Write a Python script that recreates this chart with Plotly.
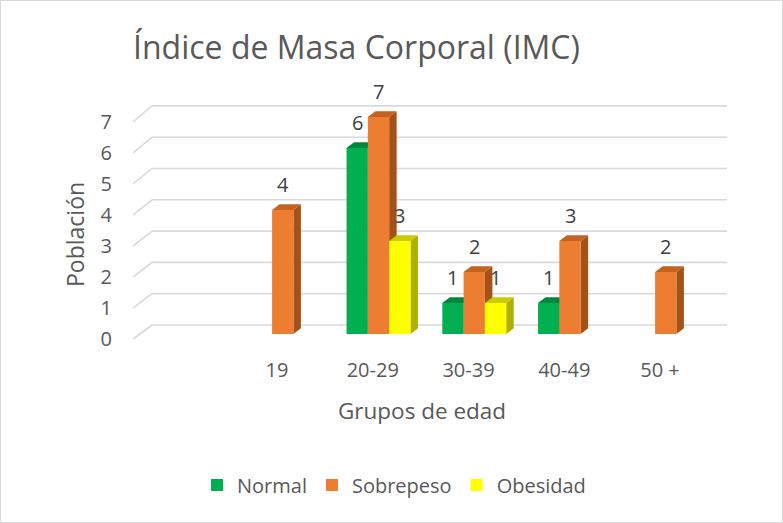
import plotly.graph_objects as go

# ---------------- data ----------------
categories = ["19", "20-29", "30-39", "40-49", "50 +"]
normal = [None, 6, 1, 1, None]
sobrepeso = [4, 7, 2, 3, 2]
obesidad = [None, 3, 1, None, None]
y_ticks = [0, 1, 2, 3, 4, 5, 6, 7]

series = [
    ("Normal", normal, "#00B050", "#00873E", "#007A36"),
    ("Sobrepeso", sobrepeso, "#ED7D31", "#C4621F", "#A4511A"),
    ("Obesidad", obesidad, "#FFFF00", "#CACA00", "#AFAF00"),
]

# ---------------- layout geometry ----------------
W, H = 783, 523
L, R, T, B = 133, 56, 94, 178
plot_w = W - L - R
plot_h = H - T - B
x_unit_px = 95.75
x_origin_px = 187.0   # pixel of position 0 (empty slot before first group)
x_range = [(L - x_origin_px) / x_unit_px, (W - R - x_origin_px) / x_unit_px]
y_unit_px = 31.0
y_zero_px = 334.0
y_range = [-(H - B - y_zero_px) / y_unit_px, (y_zero_px - T) / y_unit_px]


def paper_x(px):
    return (px - L) / plot_w


def paper_y(py):
    return (H - B - py) / plot_h


bargap = 0.3325
bw = (1 - bargap) / 3
dx = 7.5 / x_unit_px      # 3D depth, horizontal
dy = 5.7 / y_unit_px      # 3D depth, vertical

positions = [i + 1 for i in range(len(categories))]

fig = go.Figure()
shapes = []
annotations = []

# back-wall gridlines with left side-wall diagonals
grid_col = "#D9D9D9"
back_start = (152 - x_origin_px) / x_unit_px
for v in y_ticks:
    yb = v * 1.0097 + 9 / y_unit_px
    yf = v - 5 / y_unit_px
    shapes.append(dict(type="line", xref="x", yref="y", x0=x_range[0], y0=yf,
                       x1=back_start, y1=yb, line=dict(color=grid_col, width=1.6),
                       layer="below"))
    shapes.append(dict(type="line", xref="x", yref="y", x0=back_start, y0=yb,
                       x1=x_range[1], y1=yb, line=dict(color=grid_col, width=1.6),
                       layer="below"))

for k, (name, vals, col, top_col, side_col) in enumerate(series):
    fig.add_trace(go.Bar(
        name=name, x=positions, y=[v if v is not None else 0 for v in vals],
        marker=dict(color=col, line=dict(width=0)),
        hoverinfo="skip",
    ))
    for p, v in zip(positions, vals):
        if v is None:
            continue
        xc = p + (k - 1) * bw
        x0, x1 = xc - bw / 2, xc + bw / 2
        # side face
        shapes.append(dict(type="path", xref="x", yref="y", layer="below",
                           path=f"M{x1},{0} L{x1},{v} L{x1+dx},{v+dy} L{x1+dx},{dy} Z",
                           fillcolor=side_col, line=dict(width=0)))
        # top face
        shapes.append(dict(type="path", xref="x", yref="y", layer="below",
                           path=f"M{x0},{v} L{x1},{v} L{x1+dx},{v+dy} L{x0+dx},{v+dy} Z",
                           fillcolor=top_col, line=dict(width=0)))
        annotations.append(dict(x=xc, y=v, xref="x", yref="y", text=str(v),
                                showarrow=False, yshift=26, yanchor="middle",
                                font=dict(size=20, color="#404040")))

# axis titles
annotations.append(dict(text="Población", xref="paper", yref="paper",
                        x=paper_x(75), y=paper_y(235), xanchor="center", yanchor="middle",
                        textangle=-90, showarrow=False,
                        font=dict(size=23, color="#595959")))
annotations.append(dict(text="Grupos de edad", xref="paper", yref="paper",
                        x=paper_x(422), y=paper_y(410), xanchor="center", yanchor="middle",
                        showarrow=False, font=dict(size=22.5, color="#595959")))

# outer border of the chart area
shapes.append(dict(type="rect", xref="paper", yref="paper",
                   x0=paper_x(0.5), x1=paper_x(W - 0.5),
                   y0=paper_y(H - 0.5), y1=paper_y(0.5),
                   line=dict(color="#D9D9D9", width=1), layer="below"))

font_family = "Open Sans, Liberation Sans, sans-serif"
fig.update_layout(
    width=W, height=H,
    margin=dict(l=L, r=R, t=T, b=B),
    paper_bgcolor="white", plot_bgcolor="rgba(0,0,0,0)",
    barmode="group", bargap=bargap, bargroupgap=0,
    font=dict(family=font_family, color="#595959"),
    title=dict(text="Índice de Masa Corporal (IMC)", xref="container", yref="container",
               x=356.5 / W, xanchor="center", y=1 - 48 / H, yanchor="middle",
               font=dict(size=32, color="#595959", family=font_family)),
    xaxis=dict(range=x_range, tickmode="array",
               tickvals=[p - 0.06 for p in positions], ticktext=categories,
               showgrid=False, zeroline=False, showline=False,
               ticks="outside", ticklen=7, tickcolor="rgba(0,0,0,0)",
               tickfont=dict(size=20, color="#595959")),
    yaxis=dict(range=y_range, tickmode="array",
               tickvals=[v - 0.15 for v in y_ticks], ticktext=[str(v) for v in y_ticks],
               showgrid=False, zeroline=False, showline=False,
               ticks="outside", ticklen=16, tickcolor="rgba(0,0,0,0)",
               tickfont=dict(size=20, color="#595959")),
    legend=dict(orientation="h", x=paper_x(394), xanchor="center",
                y=paper_y(485), yanchor="middle",
                font=dict(size=20, color="#595959"), bgcolor="rgba(0,0,0,0)"),
    shapes=shapes, annotations=annotations,
    showlegend=True,
)

fig.write_html("out.html", config={"displayModeBar": False},
               post_script="document.body.style.margin='0';")
